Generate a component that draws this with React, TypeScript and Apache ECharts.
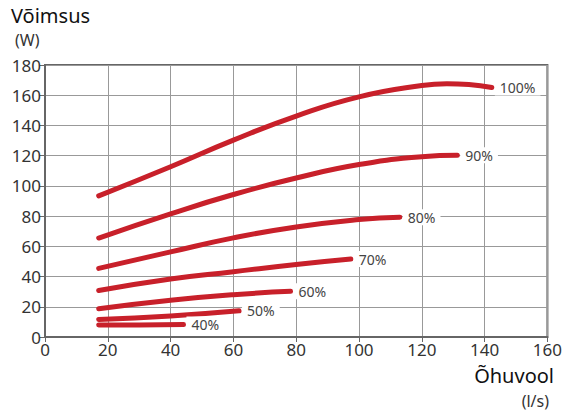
import React, { useEffect, useRef } from "react";
import * as echarts from "echarts";

const seriesNames = ["100%", "90%", "80%", "70%", "60%", "50%", "40%"];
const s100 = [[17.1, 93.4], [40, 112.7], [60, 130.3], [80, 146.2], [100, 158.9], [120, 166.4], [128, 167.6], [135, 167.1], [142.3, 165.1]];
const s90 = [[17.1, 65.5], [40, 81.5], [60, 94.3], [80, 105.2], [100, 114.1], [120, 119.3], [131.3, 120.2]];
const s80 = [[17.1, 45.4], [40, 56.3], [60, 65.6], [80, 72.8], [100, 77.7], [113, 79.3]];
const s70 = [[17.1, 30.8], [40, 38.4], [60, 43.2], [80, 48], [97.4, 51.6]];
const s60 = [[17.1, 18.7], [40, 24.3], [60, 28], [78.2, 30.2]];
const s50 = [[17.1, 11.6], [40, 13.9], [61.8, 17.3]];
const s40 = [[17.1, 7.9], [30, 8], [44.1, 8.2]];
const allData = [s100, s90, s80, s70, s60, s50, s40];
const xTicks = { min: 0, max: 160, interval: 20 };
const yTicks = { min: 0, max: 180, interval: 20 };

export default function App() {
  const ref = useRef<HTMLDivElement>(null);
  useEffect(() => {
    if (!ref.current) return;
    const chart = echarts.init(ref.current, null, { renderer: "svg" });
    const font = "Noto Sans";
    chart.setOption({
      animation: false,
      textStyle: { fontFamily: font },
      grid: {
        left: 45, right: 15, top: 65, bottom: 77,
        show: true, borderColor: "#666", borderWidth: 2, backgroundColor: "transparent",
      },
      graphic: [
        { type: "text", left: 11, top: 5, style: { text: "Võimsus", fontSize: 20, fontFamily: font, fill: "#111" } },
        { type: "text", left: 15, top: 32, style: { text: "(W)", fontSize: 16, fontFamily: font, fill: "#333" } },
        { type: "text", right: 11, top: 365, style: { text: "Õhuvool", fontSize: 20, fontFamily: font, fill: "#111" } },
        { type: "text", right: 16, top: 393, style: { text: "(l/s)", fontSize: 16, fontFamily: font, fill: "#333" } },
      ],
      xAxis: {
        type: "value", min: xTicks.min, max: xTicks.max, interval: xTicks.interval,
        axisLine: { show: true, lineStyle: { color: "#666", width: 2 } },
        axisTick: { show: true, length: 5, lineStyle: { color: "#666" } },
        axisLabel: { color: "#333", fontSize: 17, margin: 4 },
        splitLine: { show: true, lineStyle: { color: "#999", width: 1 } },
      },
      yAxis: {
        type: "value", min: yTicks.min, max: yTicks.max, interval: yTicks.interval,
        axisLine: { show: true, lineStyle: { color: "#666", width: 2 } },
        axisTick: { show: true, length: 5, lineStyle: { color: "#666" } },
        axisLabel: { color: "#333", fontSize: 17, margin: 4 },
        splitLine: { show: true, lineStyle: { color: "#999", width: 1 } },
      },
      series: allData.map((d, i) => ({
        type: "line",
        name: seriesNames[i],
        data: d,
        smooth: 0.5,
        showSymbol: false,
        symbol: "none",
        lineStyle: { color: "#c8202a", width: 5, cap: "round" },
        endLabel: {
          show: true,
          formatter: seriesNames[i],
          color: "#444",
          fontSize: 14,
          distance: 3,
          backgroundColor: "#fff",
          padding: [1, 5],
        },
        z: 3,
      })),
    });
    return () => chart.dispose();
  }, []);
  return <div ref={ref} style={{ width: 565, height: 414, position: "absolute", left: 0, top: 0 }} />;
}
